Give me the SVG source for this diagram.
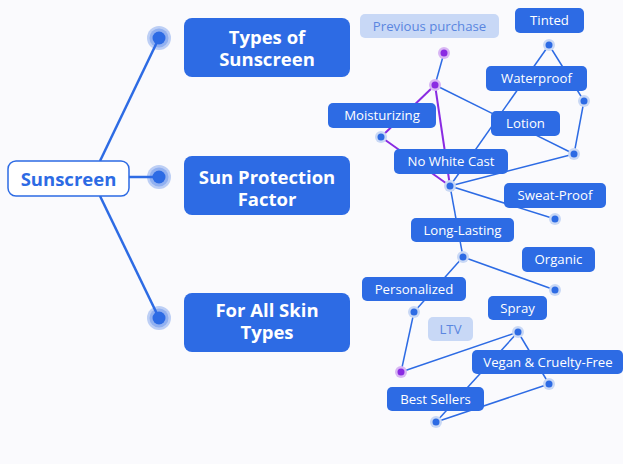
<svg xmlns="http://www.w3.org/2000/svg" width="623" height="464" viewBox="0 0 623 464">
<style>
.bg{fill:#fafafd}
.main{stroke:#2d6be4;stroke-width:2.5;fill:none}
.e{stroke:#2d6be4;stroke-width:1.5;fill:none}
.ep{stroke:#8a2be2;stroke-width:2;fill:none}
.cat rect{fill:#2d6be4}
.cat text{fill:#fff;font-family:"Open Sans","Noto Sans",sans-serif;font-weight:bold;font-size:18.5px;text-anchor:middle}
.n rect{fill:#2d6be4}
.n text{fill:#fff;font-family:"Open Sans","Noto Sans",sans-serif;font-size:13.2px;text-anchor:middle}
.g rect{fill:#c8d8f6}
.g text{fill:#5a86e0;font-family:"Open Sans","Noto Sans",sans-serif;font-size:13.2px;text-anchor:middle}
.bh{fill:#2d6be4;fill-opacity:0.3}
.bd{fill:#2d6be4}
.sh{fill:#c9d8f5}
.ph{fill:#d8b6f4}
.pd{fill:#8a2be2}
</style>
<rect class="bg" x="0" y="0" width="623" height="464"/>
<g id="connectors">
<line class="main" x1="100" y1="161" x2="159" y2="38"/>
<line class="main" x1="129" y1="177" x2="159" y2="177"/>
<line class="main" x1="100" y1="196" x2="159" y2="318"/>
<line class="e" x1="444" y1="53" x2="435" y2="85"/>
<line class="ep" x1="435" y1="85" x2="381" y2="137"/>
<line class="ep" x1="381" y1="137" x2="450" y2="186"/>
<line class="ep" x1="435" y1="85" x2="450" y2="186"/>
<line class="e" x1="435" y1="85" x2="574" y2="154"/>
<line class="e" x1="549" y1="45" x2="584" y2="101"/>
<line class="e" x1="549" y1="45" x2="450" y2="186"/>
<line class="e" x1="584" y1="101" x2="574" y2="154"/>
<line class="e" x1="574" y1="154" x2="450" y2="186"/>
<line class="e" x1="450" y1="186" x2="555" y2="219"/>
<line class="e" x1="450" y1="186" x2="463" y2="257"/>
<line class="e" x1="463" y1="257" x2="555" y2="290"/>
<line class="e" x1="463" y1="257" x2="414" y2="312"/>
<line class="e" x1="414" y1="312" x2="401" y2="372"/>
<line class="e" x1="401" y1="372" x2="518" y2="332"/>
<line class="e" x1="518" y1="332" x2="549" y2="384"/>
<line class="e" x1="518" y1="332" x2="436" y2="422"/>
<line class="e" x1="549" y1="384" x2="436" y2="422"/>
</g>
<g id="dots">
<circle class="bh" cx="159" cy="38" r="12" fill-opacity="0.15"/><circle class="bh" cx="159" cy="38" r="9.5"/><circle class="bd" cx="159" cy="38" r="6.5"/>
<circle class="bh" cx="159" cy="177" r="12" fill-opacity="0.15"/><circle class="bh" cx="159" cy="177" r="9.5"/><circle class="bd" cx="159" cy="177" r="6.5"/>
<circle class="bh" cx="159" cy="318" r="12" fill-opacity="0.15"/><circle class="bh" cx="159" cy="318" r="9.5"/><circle class="bd" cx="159" cy="318" r="6.5"/>
<circle class="ph" cx="444" cy="53" r="6"/><circle class="pd" cx="444" cy="53" r="3.5"/>
<circle class="ph" cx="435" cy="85" r="6"/><circle class="pd" cx="435" cy="85" r="3.5"/>
<circle class="ph" cx="401" cy="372" r="6"/><circle class="pd" cx="401" cy="372" r="3.5"/>
<circle class="sh" cx="549" cy="45" r="6"/><circle class="bd" cx="549" cy="45" r="3.5"/>
<circle class="sh" cx="584" cy="101" r="6"/><circle class="bd" cx="584" cy="101" r="3.5"/>
<circle class="sh" cx="381" cy="137" r="6"/><circle class="bd" cx="381" cy="137" r="3.5"/>
<circle class="sh" cx="574" cy="154" r="6"/><circle class="bd" cx="574" cy="154" r="3.5"/>
<circle class="sh" cx="450" cy="186" r="6"/><circle class="bd" cx="450" cy="186" r="3.5"/>
<circle class="sh" cx="555" cy="219" r="6"/><circle class="bd" cx="555" cy="219" r="3.5"/>
<circle class="sh" cx="463" cy="257" r="6"/><circle class="bd" cx="463" cy="257" r="3.5"/>
<circle class="sh" cx="555" cy="290" r="6"/><circle class="bd" cx="555" cy="290" r="3.5"/>
<circle class="sh" cx="414" cy="312" r="6"/><circle class="bd" cx="414" cy="312" r="3.5"/>
<circle class="sh" cx="518" cy="332" r="6"/><circle class="bd" cx="518" cy="332" r="3.5"/>
<circle class="sh" cx="549" cy="384" r="6"/><circle class="bd" cx="549" cy="384" r="3.5"/>
<circle class="sh" cx="436" cy="422" r="6"/><circle class="bd" cx="436" cy="422" r="3.5"/>
</g>
<g id="root">
<rect x="8" y="161" width="121" height="35" rx="8" fill="#fff" stroke="#2d6be4" stroke-width="1.5"/>
<text x="68.5" y="185.5" fill="#2d6be4" font-family="'Open Sans','Noto Sans',sans-serif" font-weight="bold" font-size="18.5" text-anchor="middle">Sunscreen</text>
</g>
<g id="types" class="cat"><rect x="184" y="18" width="166" height="59" rx="8"/><text x="267" y="43.5">Types of</text><text x="267" y="66">Sunscreen</text></g>
<g id="spf" class="cat"><rect x="184" y="156" width="166" height="59" rx="8"/><text x="267" y="183.5">Sun Protection</text><text x="267" y="206">Factor</text></g>
<g id="skin" class="cat"><rect x="184" y="293" width="166" height="59" rx="8"/><text x="267" y="316.5">For All Skin</text><text x="267" y="339">Types</text></g>
<g id="previous" class="g"><rect x="360" y="14" width="139" height="24" rx="5"/><text x="429.5" y="30.5">Previous purchase</text></g>
<g id="tinted" class="n"><rect x="515" y="8" width="69" height="25" rx="5"/><text x="549.5" y="25">Tinted</text></g>
<g id="waterproof" class="n"><rect x="486" y="66" width="101" height="25" rx="5"/><text x="536.5" y="83">Waterproof</text></g>
<g id="moisturizing" class="n"><rect x="328" y="103" width="108" height="25" rx="5"/><text x="382" y="120">Moisturizing</text></g>
<g id="lotion" class="n"><rect x="491" y="111" width="69" height="25" rx="5"/><text x="525.5" y="128">Lotion</text></g>
<g id="nowhitecast" class="n"><rect x="394" y="149" width="114" height="25" rx="5"/><text x="451" y="166">No White Cast</text></g>
<g id="sweatproof" class="n"><rect x="504" y="183" width="102" height="25" rx="5"/><text x="555" y="200">Sweat-Proof</text></g>
<g id="longlasting" class="n"><rect x="411" y="218" width="103" height="24" rx="5"/><text x="462.5" y="234.5">Long-Lasting</text></g>
<g id="organic" class="n"><rect x="522" y="247" width="73" height="25" rx="5"/><text x="558.5" y="264">Organic</text></g>
<g id="personalized" class="n"><rect x="362" y="277" width="104" height="24" rx="5"/><text x="414" y="293.5">Personalized</text></g>
<g id="spray" class="n"><rect x="488" y="296" width="59" height="24" rx="5"/><text x="517.5" y="312.5">Spray</text></g>
<g id="ltv" class="g"><rect x="428" y="317" width="45" height="24" rx="5"/><text x="450.5" y="333.5">LTV</text></g>
<g id="vegan" class="n"><rect x="472" y="350" width="151" height="24" rx="5"/><text x="548" y="366.5">Vegan &amp; Cruelty-Free</text></g>
<g id="bestsellers" class="n"><rect x="387" y="387" width="97" height="24" rx="5"/><text x="435.5" y="403.5">Best Sellers</text></g>
</svg>
